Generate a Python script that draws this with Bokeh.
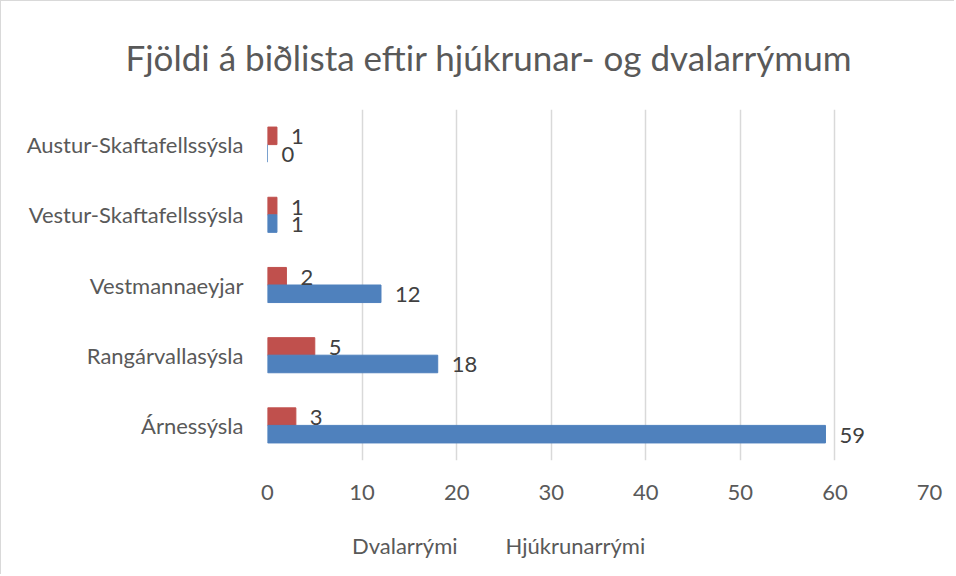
from bokeh.plotting import figure
from bokeh.models import (ColumnDataSource, LabelSet, Legend, FixedTicker, Title,
                          CDSView, IndexFilter)
from bokeh.layouts import column
from bokeh.transform import dodge
from bokeh.core.properties import value
from bokeh.embed import file_html
from bokeh.resources import INLINE

title_text = "Fjöldi á biðlista eftir hjúkrunar- og dvalarrýmum"
categories = ["Árnessýsla", "Rangárvallasýsla", "Vestmannaeyjar",
              "Vestur-Skaftafellssýsla", "Austur-Skaftafellssýsla"]
dvalarrymi = [3, 5, 2, 1, 1]
hjukrunarrymi = [59, 18, 12, 1, 0]
series_names = ["Dvalarrými", "Hjúkrunarrými"]
x_ticks = [0, 10, 20, 30, 40, 50, 60, 70]

RED = "#C0504D"
BLUE = "#4F81BD"
TXT = "#595959"
GRID = "#D9D9D9"
FONT = "Lato"
FS = "22px"

src = ColumnDataSource(dict(
    cat=categories,
    dv=dvalarrymi,
    hj=hjukrunarrymi,
    dv_t=[str(v) for v in dvalarrymi],
    hj_t=[str(v) for v in hjukrunarrymi],
))

p = figure(width=954, height=512, y_range=categories, x_range=(0, 70),
           output_backend="svg", toolbar_location=None,
           min_border_left=266, min_border_right=26,
           min_border_top=105, min_border_bottom=53)
p.styles = {"border-top": "1px solid #D9D9D9", "border-left": "1px solid #D9D9D9",
            "box-sizing": "border-box"}
p.outline_line_color = None
p.background_fill_color = "white"
p.border_fill_color = "white"

r_dv = p.hbar(y=dodge("cat", 0.125, range=p.y_range), right="dv", left=0,
              height=0.25, color=RED, source=src)
r_hj = p.hbar(y=dodge("cat", -0.125, range=p.y_range), right="hj", left=0,
              height=0.25, color=BLUE, source=src)

for col, txt, off in (("dv", "dv_t", 0.125), ("hj", "hj_t", -0.125)):
    p.add_layout(LabelSet(x=col, y=dodge("cat", off, range=p.y_range), text=txt,
                          source=src, x_offset=14, y_offset=-1,
                          text_baseline="middle", text_align="left",
                          text_font=value(FONT), text_font_size=FS,
                          text_color="#404040"))

p.xaxis.ticker = FixedTicker(ticks=x_ticks)
p.xgrid.ticker = FixedTicker(ticks=x_ticks)
p.xgrid.grid_line_color = GRID
p.xgrid.grid_line_width = 1.5
p.ygrid.grid_line_color = None

for ax in (p.xaxis, p.yaxis):
    ax.axis_line_color = None
    ax.major_tick_line_color = None
    ax.minor_tick_line_color = None
    ax.major_label_text_font = FONT
    ax.major_label_text_font_size = FS
    ax.major_label_text_color = TXT
p.xaxis.major_label_standoff = 18
p.yaxis.major_label_standoff = 18

p.add_layout(Title(text=title_text, align="left", offset=-142, standoff=64,
                   text_font=FONT, text_font_size="35px",
                   text_font_style="normal", text_color=TXT), "above")

# legend strip below the chart: same series, all rows filtered out of view
pl = figure(width=954, height=62, y_range=categories, x_range=(0, 70), title=None,
            output_backend="svg", toolbar_location=None, min_border=0,
            x_axis_location=None, y_axis_location=None)
pl.styles = {"border-left": "1px solid #D9D9D9", "box-sizing": "border-box"}
pl.outline_line_color = None
pl.grid.visible = False
l_dv = pl.hbar(y="cat", right="dv", left=0, height=0.25, color=RED, source=src,
               view=CDSView(filter=IndexFilter(indices=[])))
l_hj = pl.hbar(y="cat", right="hj", left=0, height=0.25, color=BLUE, source=src,
               view=CDSView(filter=IndexFilter(indices=[])))

legend = Legend(items=[(series_names[0], [l_dv]), (series_names[1], [l_hj])],
                orientation="horizontal", location=(66, 15),
                border_line_color=None, background_fill_alpha=0,
                label_text_font=FONT, label_text_font_size=FS,
                label_text_color=TXT, glyph_width=12, glyph_height=12,
                label_standoff=7, spacing=29, padding=0, margin=0)
pl.add_layout(legend, "center")

open("out.html", "w").write(file_html(column(p, pl, spacing=0), INLINE))
